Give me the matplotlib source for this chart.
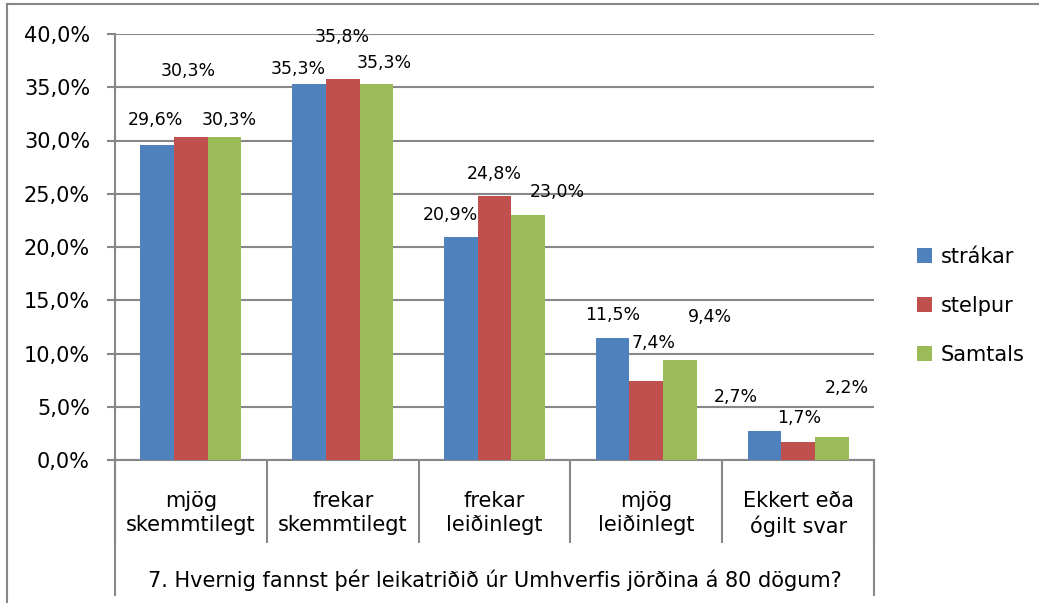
import matplotlib
matplotlib.use("Agg")
import matplotlib.pyplot as plt
from matplotlib.lines import Line2D
import numpy as np

# ---- data ----
categories = ["mjög\nskemmtilegt", "frekar\nskemmtilegt", "frekar\nleiðinlegt",
              "mjög\nleiðinlegt", "Ekkert eða\nógilt svar"]
series_names = ["strákar", "stelpur", "Samtals"]
strakar = [29.6, 35.3, 20.9, 11.5, 2.7]
stelpur = [30.3, 35.8, 24.8, 7.4, 1.7]
samtals = [30.3, 35.3, 23.0, 9.4, 2.2]
y_ticks = [0, 5, 10, 15, 20, 25, 30, 35, 40]
x_title = "7. Hvernig fannst þér leikatriðið úr Umhverfis jörðina á 80 dögum?"

# ---- layout / style ----
colors = ["#4F81BD", "#C0504D", "#9BBB59"]
grid_col = "#878787"
# data-label offsets (dx in category units, dy in value units) as placed in the original
label_dx = [[-0.01, -0.07, -0.07, 0.00, -0.19],
            [-0.02, 0.00, 0.00, 0.05, 0.01],
            [0.03, 0.05, 0.19, 0.20, 0.10]]
label_dy = [[2.3, 1.4, 2.1, 2.1, 3.2],
            [6.2, 3.9, 2.1, 3.6, 2.2],
            [1.6, 2.0, 2.2, 4.0, 4.6]]

plt.rcParams['font.family'] = ['DejaVu Sans']
FS = 15
FS_LBL = 12.5

W, H = 1039, 603
fig = plt.figure(figsize=(W / 100, H / 100), dpi=100)
ax_l, ax_r, ax_t, ax_b = 115, 874, 34, 460
ax = fig.add_axes([ax_l / W, 1 - ax_b / H, (ax_r - ax_l) / W, (ax_b - ax_t) / H])

n = len(categories)
x = np.arange(n)
bw = 0.2222
all_series = [strakar, stelpur, samtals]
for j, (vals, name, c) in enumerate(zip(all_series, series_names, colors)):
    pos = x + (j - 1) * bw
    ax.bar(pos, vals, width=bw, color=c, label=name, zorder=3, linewidth=0)
    for i, v in enumerate(vals):
        ax.text(pos[i] + label_dx[j][i], v + label_dy[j][i],
                f"{v:.1f}%".replace(".", ","), ha="center", va="center",
                fontsize=FS_LBL, color="black", zorder=4)

ax.set_xlim(-0.5, n - 0.5)
ax.set_ylim(0, 40)
ax.set_yticks(y_ticks)
ax.set_yticklabels([f"{t:.1f}%".replace(".", ",") for t in y_ticks], fontsize=FS)
ax.yaxis.grid(True, color=grid_col, linewidth=1.5, zorder=0)
ax.set_axisbelow(True)
ax.tick_params(axis="y", direction="out", length=6, width=1.5, color=grid_col, pad=12)

for s in ["top", "right"]:
    ax.spines[s].set_visible(False)
for s in ["left", "bottom"]:
    ax.spines[s].set_color(grid_col)
    ax.spines[s].set_linewidth(1.5)

# category axis: separators as major ticks, labels on minor ticks
ax.set_xticks(np.arange(-0.5, n, 1.0))
ax.set_xticklabels([])
ax.tick_params(axis="x", which="major", direction="out", length=60, width=1.5, color=grid_col)
ax.set_xticks(x, minor=True)
ax.set_xticklabels(categories, minor=True, fontsize=FS, linespacing=1.3)
ax.tick_params(axis="x", which="minor", length=0, pad=22)

# outer lines of the category box
trans = ax.get_xaxis_transform()
bot = -(595 - ax_b) / (ax_b - ax_t)
for xe in (-0.5, n - 0.5):
    ax.add_line(Line2D([xe, xe], [0, bot], transform=trans, color=grid_col,
                       linewidth=1.5, clip_on=False))

ax.set_xlabel(x_title, fontsize=FS)
ax.xaxis.set_label_coords(0.5, -(580 - ax_b) / (ax_b - ax_t))
ax.xaxis.label.set_va("center")

fig.legend(loc="center left", bbox_to_anchor=(917 / W, 1 - 306 / H), frameon=False,
           fontsize=FS, handlelength=0.72, handleheight=0.72, handletextpad=0.4,
           labelspacing=1.4, borderpad=0, borderaxespad=0)

# chart border (top and left visible)
fig.add_artist(Line2D([7 / W, 7 / W], [0, 1 - 4 / H], transform=fig.transFigure,
                      color=grid_col, linewidth=1.5))
fig.add_artist(Line2D([7 / W, 1], [1 - 4 / H, 1 - 4 / H], transform=fig.transFigure,
                      color=grid_col, linewidth=1.5))

fig.savefig("out.png", dpi=100)
